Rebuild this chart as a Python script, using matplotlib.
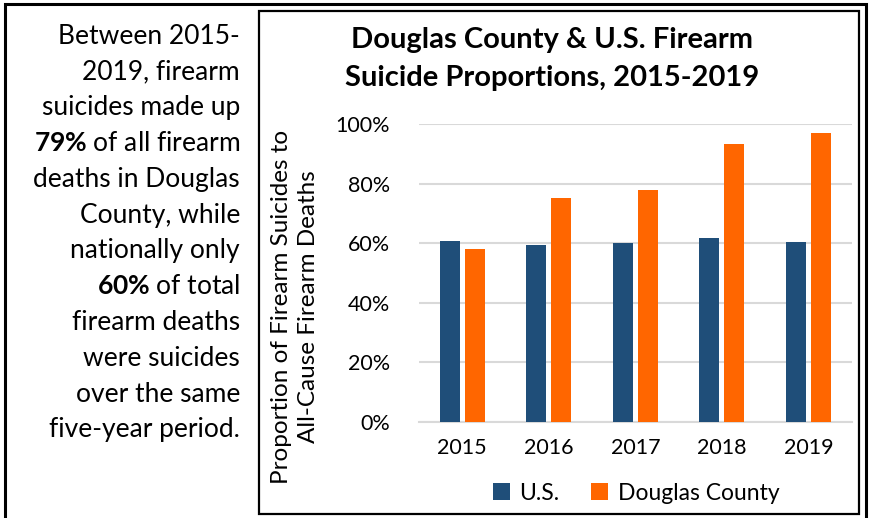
import matplotlib
matplotlib.use("Agg")
import matplotlib.pyplot as plt
from matplotlib.patches import Rectangle
from matplotlib.ticker import PercentFormatter
import numpy as np

years = ["2015", "2016", "2017", "2018", "2019"]
us_share = [0.607, 0.594, 0.600, 0.616, 0.604]
douglas_share = [0.580, 0.750, 0.778, 0.934, 0.969]

note_lines = [
    "Between 2015-",
    "2019, firearm",
    "suicides made up",
    r"$\mathbf{79\%}$ of all firearm",
    "deaths in Douglas",
    "County, while",
    "nationally only",
    r"$\mathbf{60\%}$ of total",
    "firearm deaths",
    "were suicides",
    "over the same",
    "five-year period.",
]

plt.rcParams["font.family"] = ["Lato", "DejaVu Sans"]
plt.rcParams["mathtext.fontset"] = "custom"
plt.rcParams["mathtext.rm"] = "Lato"
plt.rcParams["mathtext.bf"] = "Lato:bold"

fig = plt.figure(figsize=(8.7, 5.18), dpi=100)
W, H = 870, 518

# outer frame and chart frame
fig.patches.append(Rectangle((5 / W, -0.02), 861 / W, 1.02 - 4 / H, transform=fig.transFigure,
                             fill=False, lw=2.2, ec="black"))
fig.patches.append(Rectangle((259 / W, 1 - 514 / H), 600 / W, 503 / H, transform=fig.transFigure,
                             fill=False, lw=1.6, ec="black"))

# left note
for i, line in enumerate(note_lines):
    fig.text(240 / W, 1 - (36 + i * 35.8) / H, line, ha="right", va="center", fontsize=19)

ax = fig.add_axes([419 / W, 1 - 421.7 / H, 432.7 / W, 297.7 / H])
x = np.arange(len(years))
bw = 0.231
off = 0.145
ax.bar(x - off, us_share, bw, color="#1F4E79", label="U.S.", zorder=3)
ax.bar(x + off, douglas_share, bw, color="#FF6600", label="Douglas County", zorder=3)

ax.set_xlim(-0.5, len(years) - 0.5)
ax.set_ylim(0, 1)
ax.set_yticks(np.arange(0, 1.01, 0.2))
ax.yaxis.set_major_formatter(PercentFormatter(1.0, decimals=0))
ax.set_xticks(x)
ax.set_xticklabels(years)
ax.tick_params(axis="both", length=0, labelsize=15.5)
ax.tick_params(axis="x", pad=12)
ax.tick_params(axis="y", pad=21)
ax.grid(axis="y", color="#D9D9D9", lw=1.5, zorder=0)
for s in ["top", "right", "left"]:
    ax.spines[s].set_visible(False)
ax.spines["bottom"].set_color("#D9D9D9")
ax.spines["bottom"].set_linewidth(1.5)

ax.set_ylabel("Proportion of Firearm Suicides to\nAll-Cause Firearm Deaths", fontsize=17.5,
              linespacing=1.4)
ax.yaxis.set_label_coords(-0.23, 0.387)

fig.text(552 / W, 1 - 40 / H, "Douglas County & U.S. Firearm", ha="center", va="center",
         fontsize=21, fontweight="bold")
fig.text(552 / W, 1 - 78 / H, "Suicide Proportions, 2015-2019", ha="center", va="center",
         fontsize=21, fontweight="bold")

fig.legend(loc="center", bbox_to_anchor=(636 / W, 1 - 493 / H), ncol=2, frameon=False,
           fontsize=16.5, handlelength=0.75, handleheight=0.75, handletextpad=0.4,
           columnspacing=1.4)

fig.savefig("out.png", dpi=100)
